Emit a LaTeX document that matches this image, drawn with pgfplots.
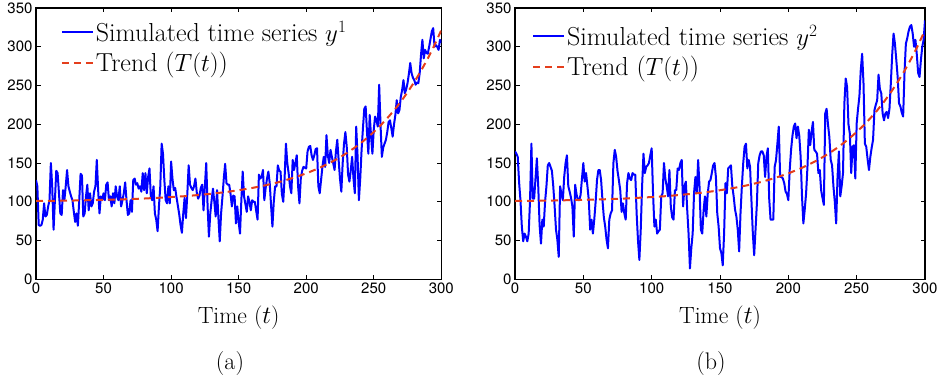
\documentclass[border=0pt]{standalone}
\usepackage{fontspec}
\usepackage{pgfplots}
\usepackage{pgfplotstable}
\pgfplotsset{compat=1.18}
\newfontfamily\helv{TeX Gyre Heros}
\definecolor{serblue}{RGB}{0,0,255}
\definecolor{trendred}{RGB}{228,62,28}

\pgfplotstableread{
t v
0 128
1 120
2 70
3 69
4 70
5 77
6 98
7 81
8 83
9 94
10 102
11 150
12 120
13 64
14 102
15 140
16 137
17 111
18 85
19 83
20 115
21 102
22 120
23 141
24 120
25 113
26 107
27 102
28 87
29 74
30 85
31 69
32 102
33 136
34 134
35 81
36 85
37 107
38 122
39 89
40 111
41 94
42 98
43 113
44 120
45 154
46 115
47 85
48 107
49 102
50 111
51 102
52 122
53 125
54 102
55 107
56 94
57 111
58 98
59 120
60 107
61 102
62 120
63 94
64 102
65 111
66 125
67 102
68 83
69 85
70 102
71 87
72 128
73 130
74 122
75 124
76 117
77 120
78 113
79 137
80 115
81 137
82 111
83 132
84 143
85 107
86 102
87 120
88 85
89 77
90 62
91 94
92 120
93 175
94 162
95 128
96 102
97 98
98 120
99 98
100 152
101 130
102 115
103 118
104 106
105 95
106 84
107 70
108 60
109 85
110 105
111 79
112 110
113 147
114 122
115 118
116 115
117 120
118 130
119 112
120 104
121 108
122 118
123 122
124 89
125 120
126 150
127 95
128 55
129 85
130 102
131 117
132 100
133 81
134 115
135 80
136 49
137 85
138 106
139 130
140 149
141 124
142 122
143 122
144 110
145 94
146 108
147 107
148 72
149 94
150 74
151 59
152 102
153 139
154 107
155 97
156 87
157 107
158 100
159 89
160 102
161 100
162 100
163 88
164 77
165 135
166 130
167 132
168 141
169 102
170 118
171 130
172 139
173 124
174 95
175 68
176 100
177 120
178 120
179 147
180 140
181 139
182 110
183 100
184 130
185 175
186 150
187 137
188 120
189 111
190 154
191 141
192 150
193 160
194 120
195 98
196 130
197 140
198 145
199 144
200 143
201 165
202 171
203 172
204 160
205 154
206 160
207 168
208 169
209 120
210 111
211 128
212 145
213 158
214 145
215 186
216 160
217 150
218 167
219 158
220 150
221 141
222 165
223 180
224 154
225 130
226 113
227 150
228 175
229 190
230 171
231 135
232 126
233 141
234 158
235 130
236 111
237 197
238 160
239 102
240 130
241 167
242 195
243 220
244 223
245 190
246 162
247 212
248 185
249 162
250 193
251 210
252 205
253 197
254 251
255 200
256 158
257 170
258 175
259 180
260 190
261 203
262 205
263 195
264 184
265 200
266 212
267 231
268 214
269 218
270 235
271 244
272 257
273 240
274 245
275 253
276 265
277 279
278 266
279 260
280 257
281 251
282 254
283 253
284 266
285 290
286 309
287 285
288 296
289 292
290 291
291 300
292 310
293 320
294 324
295 300
296 302
297 300
298 296
299 309
300 305
}\seriesA

\pgfplotstableread{
t v
0 165
1 162
2 158
3 125
4 102
5 68
6 49
7 59
8 55
9 49
10 59
11 102
12 175
13 104
14 104
15 130
16 156
17 120
18 70
19 46
20 77
21 68
22 100
23 120
24 147
25 150
26 145
27 140
28 120
29 94
30 64
31 51
32 29
33 120
34 110
35 102
36 132
37 150
38 160
39 120
40 113
41 105
42 94
43 55
44 122
45 110
46 102
47 102
48 109
49 130
50 150
51 126
52 137
53 120
54 102
55 64
56 77
57 59
58 77
59 100
60 128
61 141
62 141
63 128
64 102
65 80
66 68
67 51
68 40
69 77
70 85
71 89
72 150
73 167
74 158
75 140
76 128
77 115
78 87
79 98
80 85
81 77
82 124
83 137
84 130
85 128
86 137
87 135
88 135
89 85
90 50
91 25
92 64
93 120
94 162
95 137
96 145
97 147
98 150
99 160
100 169
101 111
102 68
103 77
104 59
105 62
106 64
107 107
108 111
109 150
110 130
111 120
112 107
113 141
114 94
115 80
116 77
117 115
118 115
119 143
120 141
121 150
122 154
123 94
124 120
125 126
126 90
127 59
128 14
129 40
130 59
131 111
132 132
133 111
134 154
135 120
136 64
137 59
138 89
139 107
140 81
141 110
142 126
143 128
144 137
145 147
146 150
147 132
148 85
149 68
150 40
151 34
152 18
153 59
154 124
155 111
156 143
157 145
158 147
159 120
160 107
161 90
162 81
163 64
164 36
165 85
166 120
167 150
168 171
169 175
170 143
171 154
172 145
173 102
174 60
175 31
176 64
177 98
178 150
179 160
180 165
181 165
182 160
183 132
184 158
185 169
186 104
187 77
188 77
189 77
190 145
191 154
192 175
193 197
194 132
195 132
196 130
197 124
198 113
199 110
200 102
201 141
202 167
203 185
204 197
205 201
206 182
207 197
208 185
209 158
210 107
211 72
212 90
213 111
214 145
215 193
216 173
217 190
218 203
219 167
220 165
221 162
222 137
223 141
224 115
225 105
226 96
227 214
228 220
229 200
230 184
231 154
232 147
233 120
234 100
235 72
236 132
237 165
238 107
239 120
240 137
241 227
242 259
243 248
244 200
245 188
246 137
247 171
248 173
249 130
250 201
251 220
252 236
253 270
254 291
255 253
256 175
257 171
258 155
259 141
260 158
261 170
262 180
263 218
264 225
265 231
266 264
267 245
268 240
269 214
270 205
271 214
272 216
273 208
274 220
275 253
276 290
277 317
278 304
279 283
280 261
281 227
282 223
283 215
284 210
285 266
286 304
287 311
288 320
289 326
290 328
291 317
292 300
293 309
294 290
295 266
296 261
297 283
298 300
299 309
300 334
}\seriesB

\pgfplotstableread{
t v
0 101.0
10 101.2
20 101.4
30 101.7
40 102.1
50 102.5
60 102.9
70 103.5
80 104.2
90 105.1
100 106.1
110 107.2
120 108.7
130 110.4
140 112.4
150 114.9
160 117.8
170 121.3
180 125.5
190 130.6
200 136.6
210 143.8
220 152.5
225 157.4
230 162.8
235 168.7
240 175.2
245 182.3
250 190.0
255 198.5
260 207.8
265 217.9
270 229.0
275 241.2
280 254.5
285 269.0
290 284.9
295 302.3
300 321.4
}\trend

\pgfplotsset{
  mystyle/.style={
    scale only axis=true,
    height=271.3pt,
    xmin=0, xmax=300, ymin=0, ymax=350,
    xtick={0,50,...,300}, ytick={0,50,...,350},
    tick align=inside,
    xtick pos=both, ytick pos=both,
    xticklabel pos=bottom, yticklabel pos=left,
    major tick length=4.5pt,
    axis line style={line width=1.1pt},
    every tick/.style={black, line width=0.8pt},
    tick label style={font=\helv\fontsize{15}{15}\selectfont},
    /pgf/number format/assume math mode=true,
    xlabel={Time ($t$)},
    xlabel style={font=\fontsize{23.5}{25}\selectfont, yshift=-5pt},
    legend cell align=left,
    legend image code/.code={\draw[mark repeat=2,mark phase=2] plot coordinates {(0pt,0pt) (15pt,0pt) (31pt,0pt)};},
    legend style={draw=none, fill=none, font=\fontsize{26}{28}\selectfont,
      anchor=north west, row sep=5.5pt, inner xsep=0pt, inner ysep=0pt,
      /tikz/every even column/.append style={column sep=0pt}},
  },
  blueline/.style={serblue, line width=2pt, line join=round},
  redline/.style={trendred, line width=2pt, dash pattern=on 7pt off 5pt},
}

\begin{document}
\begin{tikzpicture}
\useasboundingbox (0,0) rectangle (945pt,382pt);
\begin{axis}[mystyle, width=405.3pt, at={(36pt,102.7pt)}, anchor=south west,
  legend style={at={(0.061,0.96)}}]
\addplot[blueline] table[x=t,y=v] {\seriesA};
\addlegendentry{Simulated time series $y^1$}
\addplot[redline] table[x=t,y=v] {\trend};
\addlegendentry{Trend ($T(t)$)}
\end{axis}
\begin{axis}[mystyle, width=410pt, at={(515pt,102.7pt)}, anchor=south west,
  legend style={at={(0.041,0.945)}}]
\addplot[blueline] table[x=t,y=v] {\seriesB};
\addlegendentry{Simulated time series $y^2$}
\addplot[redline] table[x=t,y=v] {\trend};
\addlegendentry{Trend ($T(t)$)}
\end{axis}
\node[font=\fontsize{24}{26}\selectfont, anchor=base] at (230pt,12pt) {(a)};
\node[font=\fontsize{24}{26}\selectfont, anchor=base] at (711pt,12pt) {(b)};
\end{tikzpicture}
\end{document}
